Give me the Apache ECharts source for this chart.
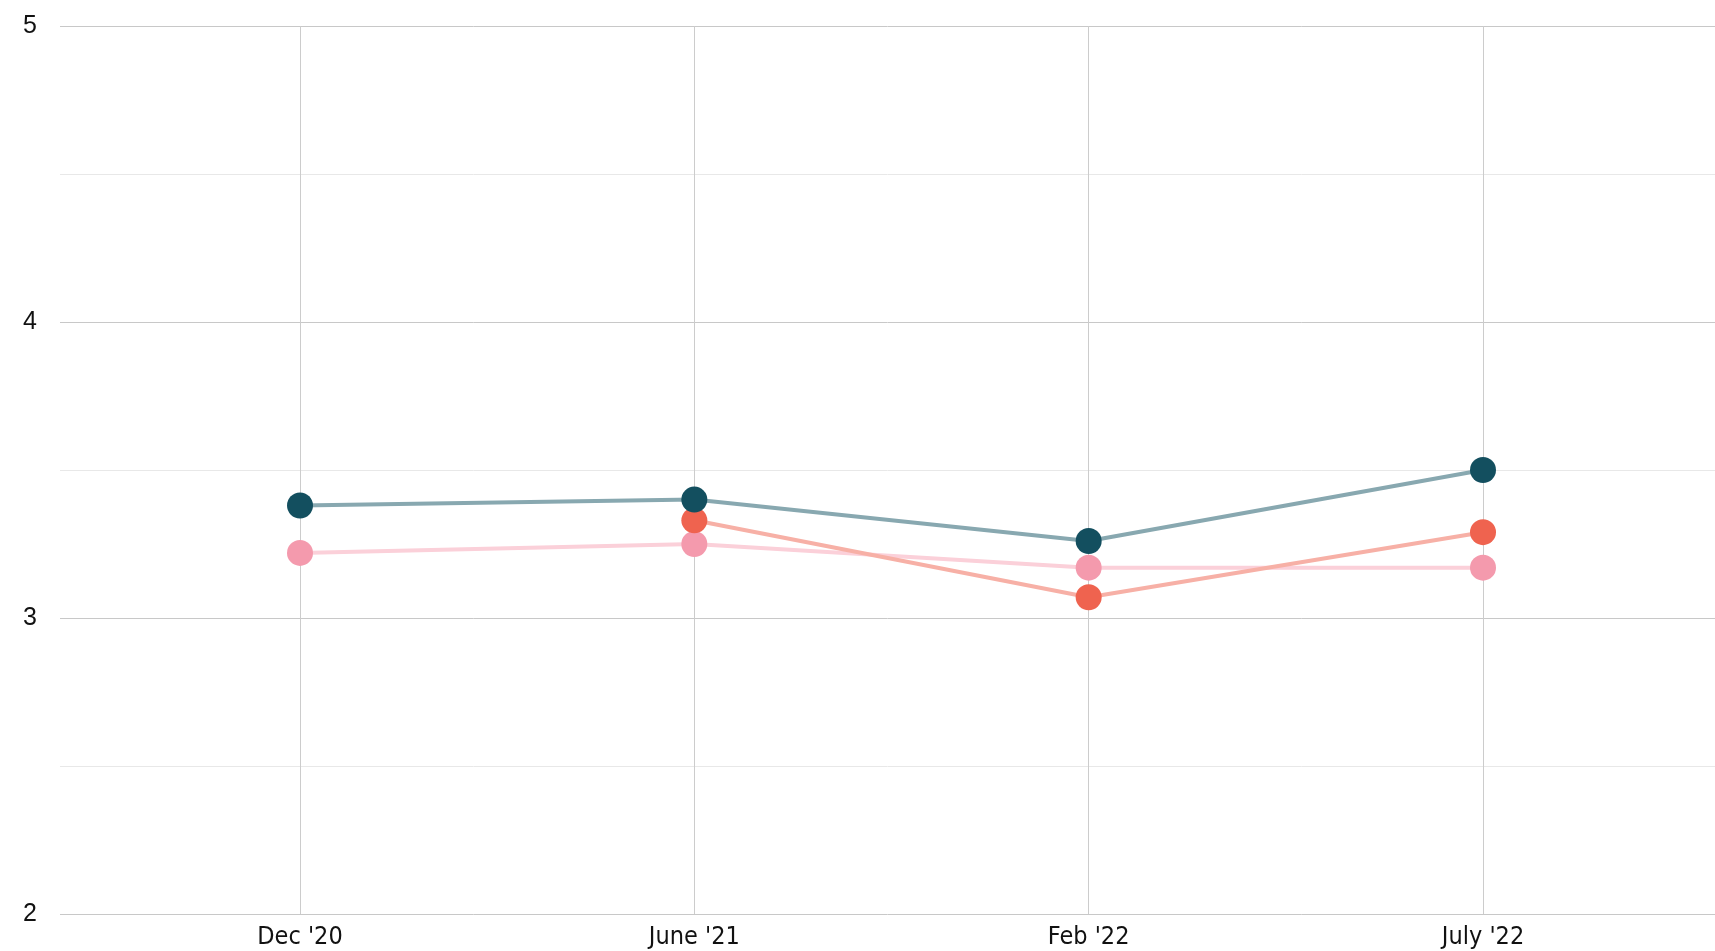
<!DOCTYPE html>
<html>
<head>
<meta charset="utf-8">
<title>line chart</title>
<script src="https://cdn.jsdelivr.net/npm/echarts@6/dist/echarts.min.js"></script>
<style>
  html, body { margin: 0; padding: 0; background: #fff; }
  #chart { width: 1715px; height: 951px; }
</style>
</head>
<body>
<div id="chart"></div>
<script>
// categories and values
var categories = ["Dec '20", "June '21", "Feb '22", "July '22"];
var tealValues = [3.38, 3.40, 3.26, 3.50];
var redValues = [null, 3.33, 3.07, 3.29];
var pinkValues = [3.22, 3.25, 3.17, 3.17];
var yTicks = [2, 3, 4, 5];

var myChart = echarts.init(document.getElementById("chart"));

function lineSeries(data, lineColor, dotColor) {
  return {
    type: "line",
    xAxisIndex: 1,
    yAxisIndex: 1,
    data: data,
    symbol: "circle",
    symbolSize: 26,
    showAllSymbol: true,
    connectNulls: false,
    lineStyle: { color: lineColor, width: 4 },
    itemStyle: { color: dotColor },
    emphasis: { disabled: true },
    animation: false
  };
}

myChart.setOption({
  animation: false,
  grid: [
    { left: 60, right: 0, top: 26, bottom: 37 },
    { left: 300, right: 232, top: 26, bottom: 37 }
  ],
  xAxis: [
    { gridIndex: 0, type: "value", show: false, min: 0, max: 1 },
    {
      gridIndex: 1,
      type: "category",
      data: categories,
      boundaryGap: false,
      axisLine: { show: false },
      axisTick: { show: false },
      splitLine: { show: true, lineStyle: { color: "#cccccc", width: 1 } },
      axisLabel: {
        margin: 11,
        color: "#111",
        fontSize: 25,
        fontFamily: "Liberation Sans Narrow, DejaVu Sans Condensed, sans-serif"
      }
    }
  ],
  yAxis: [
    {
      gridIndex: 0,
      type: "value",
      min: yTicks[0],
      max: yTicks[yTicks.length - 1],
      interval: 1,
      axisLine: { show: false },
      axisTick: { show: false },
      splitLine: { show: true, lineStyle: { color: "#c8c8c8", width: 1 } },
      minorTick: { show: false, splitNumber: 2 },
      minorSplitLine: { show: true, lineStyle: { color: "#e8e8e8", width: 1 } },
      axisLabel: {
        align: "left",
        margin: 37,
        padding: [0, 0, 8, 0],
        color: "#111",
        fontSize: 25,
        fontFamily: "Liberation Sans, Arial, sans-serif"
      }
    },
    { gridIndex: 1, type: "value", show: false, min: 2, max: 5 }
  ],
  series: [
    lineSeries(pinkValues, "#fbd0d9", "#f49aad"),
    lineSeries(redValues, "#f7b0a6", "#ef634f"),
    lineSeries(tealValues, "#88a8b0", "#134f5f")
  ]
});
</script>
</body>
</html>
